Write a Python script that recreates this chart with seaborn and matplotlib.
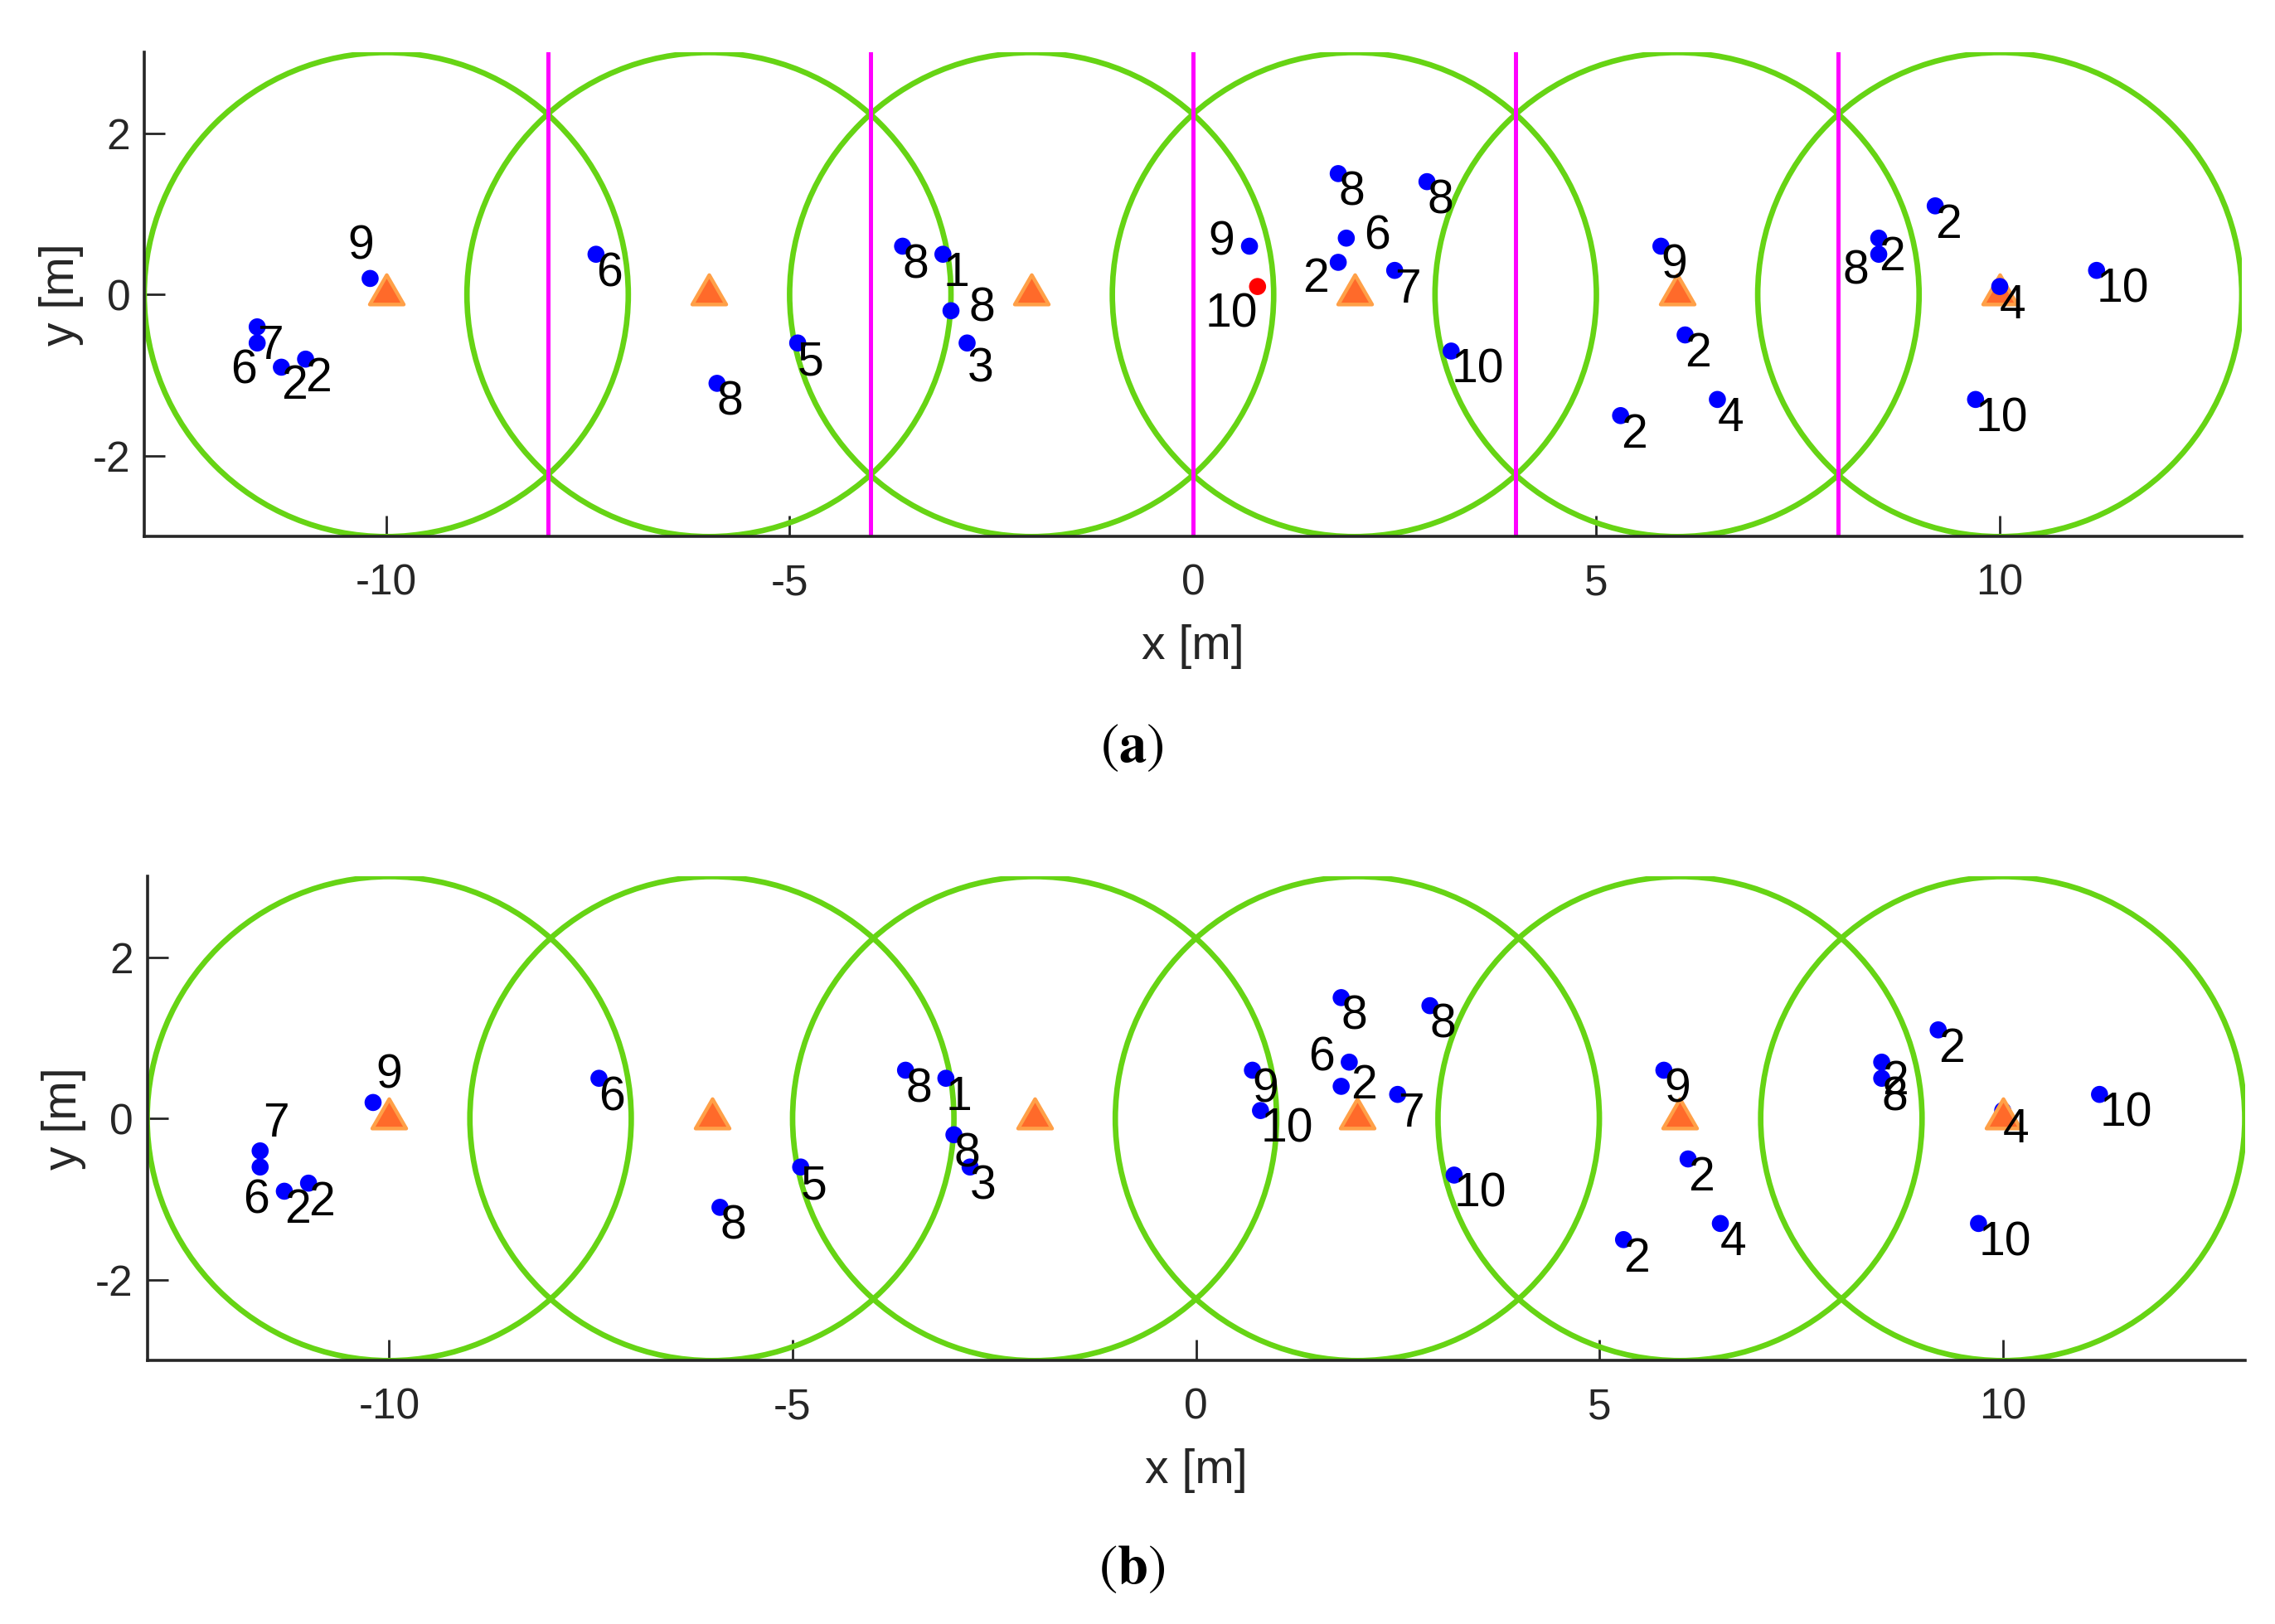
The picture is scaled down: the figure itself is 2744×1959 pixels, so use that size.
import numpy as np
import pandas as pd
import matplotlib
matplotlib.use("Agg")
import matplotlib.pyplot as plt
from matplotlib.patches import Circle
from matplotlib.path import Path
import seaborn as sns

# base stations and their coverage radius
bs_x = [-10, -6, -2, 2, 6, 10]
bs_y = [0, 0, 0, 0, 0, 0]
radius = 3
# cell borders drawn in (a)
borders = [-8, -4, 0, 4, 8]

# users (position + label)
ue_x = [-10.2, -11.6, -11.6, -11.3, -11.0, -7.4, -5.9, -4.9, -3.6, -3.1,
        -3.0, -2.8, 0.7, 0.8, 1.8, 1.9, 1.8, 2.5, 2.9, 3.2,
        5.8, 6.1, 6.5, 5.3, 9.2, 8.5, 8.5, 10.0, 11.2, 9.7]
ue_y = [0.2, -0.4, -0.6, -0.9, -0.8, 0.5, -1.1, -0.6, 0.6, 0.5,
        -0.2, -0.6, 0.6, 0.1, 1.5, 0.7, 0.4, 0.3, 1.4, -0.7,
        0.6, -0.5, -1.3, -1.5, 1.1, 0.7, 0.5, 0.1, 0.3, -1.3]
ue_lab = [9, 7, 6, 2, 2, 6, 8, 5, 8, 1,
          8, 3, 9, 10, 8, 6, 2, 7, 8, 10,
          9, 2, 4, 2, 2, 2, 8, 4, 10, 10]
# user left without service in (a)
ue_out_a = [i == 13 for i in range(len(ue_x))]

# where each label sits relative to its point
place_a = ['n', 'se', 'sw', 'se', 'se', 'se', 'se', 'se', 'se', 'se',
           'e', 's3', 'w', 'sw', 'se', 'e', 'wsw', 'se', 'se', 'se',
           'se', 'se', 'se', 'se', 'se', 'se', 'wsw', 'se', 'se', 'se']
place_b = ['ne', 'ne', 's', 'se', 'se', 'se', 'se', 'se', 'se', 'se',
           'se', 'se', 'se', 'se', 'se', 'w', 'e2', 'se', 'se', 'se',
           'se', 'se', 'se', 'se', 'se', 'se', 'se', 'se', 'se', 'se']
offs = {'se': (0.0, -0.24, 'left'), 'e': (0.22, 0.02, 'left'),
        'e2': (0.12, 0.0, 'left'), 'w': (-0.18, 0.05, 'right'),
        'n': (-0.12, 0.39, 'center'), 'ne': (0.03, 0.33, 'left'),
        'sw': (0.0, -0.35, 'right'), 'wsw': (-0.12, -0.21, 'right'),
        's': (-0.05, -0.42, 'center'), 's3': (0.0, -0.33, 'left')}

sns.set_theme(style="white")
plt.rcParams['font.family'] = ['Liberation Sans', 'DejaVu Sans']
plt.rcParams['axes.unicode_minus'] = False
plt.rcParams['mathtext.fontset'] = 'stix'

GREEN = '#66D414'
tri = Path([(0, 1), (-0.866, -0.5), (0.866, -0.5), (0, 1)],
           [Path.MOVETO, Path.LINETO, Path.LINETO, Path.CLOSEPOLY])

ue = pd.DataFrame({'x': ue_x, 'y': ue_y, 'lab': ue_lab,
                   'out': ue_out_a})
bs = pd.DataFrame({'x': bs_x, 'y': bs_y})

fig = plt.figure(figsize=(13.72, 9.795), dpi=200)


def draw_panel(ax, place, with_borders, mark_out):
    for cx, cy in zip(bs['x'], bs['y']):
        ax.add_patch(Circle((cx, cy), radius, fill=False, ec=GREEN,
                            lw=2.4, zorder=1))
    if with_borders:
        for b in borders:
            ax.axvline(b, color='#FF00FF', lw=1.8, zorder=2)
    # in (a) users drawn on top of the stations, in (b) underneath
    zu, zb = (4, 3) if mark_out else (3, 4)
    hue = ue['out'].map({True: 'out', False: 'in'}) if mark_out else None
    sns.scatterplot(data=ue, x='x', y='y', hue=hue,
                    palette={'in': '#0000FF', 'out': '#FF0000'} if mark_out else None,
                    color='#0000FF', s=55, edgecolor='none', legend=False,
                    ax=ax, zorder=zu)
    sns.scatterplot(data=bs, x='x', y='y', marker=tri, s=290,
                    color='#FF6A2A', edgecolor='#FFA048', linewidth=1.6,
                    legend=False, ax=ax, zorder=zb)
    for x, y, t, p in zip(ue['x'], ue['y'], ue['lab'], place):
        dx, dy, ha = offs[p]
        ax.text(x + dx, y + dy, str(t), ha=ha, va='center',
                fontsize=20.5, color='black', zorder=5)

    ax.set_xlim(-13, 13)
    ax.set_ylim(-3, 3)
    ax.set_aspect('equal')
    ax.set_xticks([-10, -5, 0, 5, 10])
    ax.set_yticks([-2, 0, 2])
    sns.despine(ax=ax)
    for s in ['left', 'bottom']:
        ax.spines[s].set_color('#262626')
        ax.spines[s].set_linewidth(1.3)
    ax.tick_params(axis='both', direction='in', length=9, width=1,
                   colors='#262626', labelsize=18.5)
    ax.tick_params(axis='x', pad=11.5, bottom=True)
    ax.tick_params(axis='y', pad=6, left=True)
    ax.set_xlabel('x [m]', fontsize=20.5, color='#262626', labelpad=9)
    ax.set_ylabel('y [m]', fontsize=20.5, color='#262626', labelpad=4)


ax_a = fig.add_axes([0.0634, 0.6694, 0.922, 0.2984])
draw_panel(ax_a, place_a, True, True)
ax_b = fig.add_axes([0.0647, 0.1620, 0.922, 0.2984])
draw_panel(ax_b, place_b, False, False)

fig.text(0.4975, 1 - 902 / 1959, r'$(\mathbf{a})$', ha='center',
         va='center', fontsize=24, color='black')
fig.text(0.4975, 1 - 1893 / 1959, r'$(\mathbf{b})$', ha='center',
         va='center', fontsize=24, color='black')

fig.savefig('out.png', dpi=200, facecolor='white')
